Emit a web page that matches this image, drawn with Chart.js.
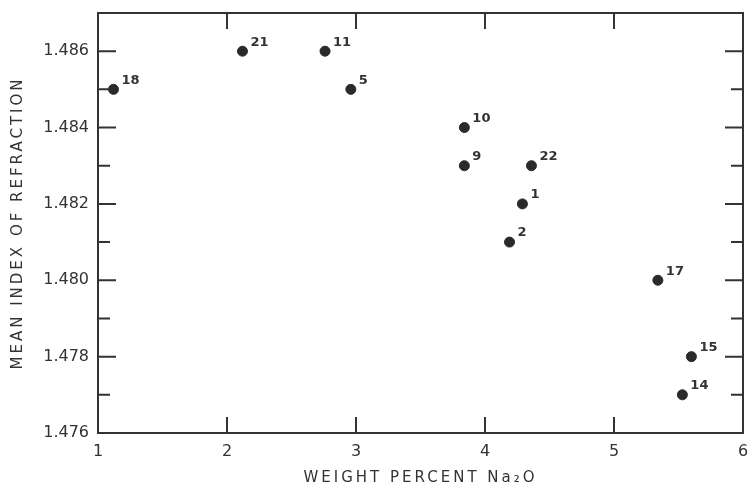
<!DOCTYPE html>
<html><head><meta charset="utf-8">
<script src="https://cdn.jsdelivr.net/npm/chart.js@4"></script>
<style>html,body{margin:0;padding:0;background:#fff}</style>
</head><body>
<canvas id="c" width="749" height="486" style="width:749px;height:486px;display:block"></canvas>
<script>
// ---- data ----
const sampleLabels = ['18','21','11','5','10','9','22','1','2','17','15','14'];
const weightNa2O   = [1.12, 2.12, 2.76, 2.96, 3.84, 3.84, 4.36, 4.29, 4.19, 5.34, 5.60, 5.53];
const meanIndex    = [1.485, 1.486, 1.486, 1.485, 1.484, 1.483, 1.483, 1.482, 1.481, 1.480, 1.478, 1.477];
const xTickLabels  = ['1','2','3','4','5','6'];
const yTickLabels  = ['1.476','1.478','1.480','1.482','1.484','1.486'];
const xTitle = 'WEIGHT PERCENT Na\u2082O';
const yTitle = 'MEAN INDEX OF REFRACTION';

const INK = '#333333';
const FONT = '"DejaVu Sans", sans-serif';

const framePlugin = {
  id: 'frame',
  afterDraw(chart) {
    const {ctx, chartArea: a, scales: {x, y}} = chart;
    ctx.save();
    ctx.strokeStyle = INK;
    ctx.lineWidth = 2;
    ctx.strokeRect(a.left, a.top, a.right - a.left, a.bottom - a.top);
    ctx.beginPath();
    x.ticks.forEach(t => {
      if (t.value <= x.min || t.value >= x.max) return;
      const px = x.getPixelForValue(t.value);
      ctx.moveTo(px, a.bottom); ctx.lineTo(px, a.bottom - 16);
      ctx.moveTo(px, a.top);    ctx.lineTo(px, a.top + 16);
    });
    y.ticks.forEach(t => {
      if (t.value <= y.min + 1e-9 || t.value >= y.max - 1e-9) return;
      const py = y.getPixelForValue(t.value);
      const major = yTickLabels.includes(t.value.toFixed(3));
      const len = major ? 18 : 12;
      ctx.moveTo(a.left, py);  ctx.lineTo(a.left + len, py);
      ctx.moveTo(a.right, py); ctx.lineTo(a.right - len, py);
    });
    ctx.stroke();

    // sample number labels
    const meta = chart.getDatasetMeta(0);
    ctx.fillStyle = INK;
    ctx.font = 'bold 13px ' + FONT;
    ctx.textAlign = 'left';
    ctx.textBaseline = 'middle';
    meta.data.forEach((pt, i) => ctx.fillText(sampleLabels[i], pt.x + 8, pt.y - 9));

    // axis titles
    ctx.font = '15px ' + FONT;
    ctx.letterSpacing = '3px';
    ctx.textAlign = 'center';
    ctx.fillText(xTitle, (a.left + a.right) / 2, 478);
    ctx.translate(18, (a.top + a.bottom) / 2);
    ctx.rotate(-Math.PI / 2);
    ctx.fillText(yTitle, 0, 0);
    ctx.restore();
  }
};

function noPad(s) { s.paddingLeft = 0; s.paddingRight = 0; s.paddingTop = 0; s.paddingBottom = 0; }

new Chart(document.getElementById('c'), {
  type: 'scatter',
  data: {
    datasets: [{
      data: weightNa2O.map((v, i) => ({x: v, y: meanIndex[i]})),
      backgroundColor: '#2a2a2a',
      borderColor: '#2a2a2a',
      pointRadius: 5,
      pointHoverRadius: 5
    }]
  },
  options: {
    responsive: false,
    animation: false,
    devicePixelRatio: 1,
    layout: {padding: {top: 13, right: 4, left: 0, bottom: 0}},
    plugins: {legend: {display: false}, tooltip: {enabled: false}},
    scales: {
      x: {
        type: 'linear', min: 1, max: 6,
        grid: {display: false, drawTicks: false},
        border: {display: false},
        ticks: {
          stepSize: 1, padding: 9, color: INK, font: {family: FONT, size: 16},
          maxRotation: 0,
          callback: v => { const s = String(Math.round(v)); return xTickLabels.includes(s) ? s : ''; }
        },
        afterFit: s => { s.height = 53; noPad(s); }
      },
      y: {
        type: 'linear', min: 1.476, max: 1.487,
        grid: {display: false, drawTicks: false},
        border: {display: false},
        ticks: {
          stepSize: 0.001, maxTicksLimit: 20, autoSkip: false, padding: 9,
          color: INK, font: {family: FONT, size: 16},
          callback: v => { const s = Number(v).toFixed(3); return yTickLabels.includes(s) ? s : ''; }
        },
        afterFit: s => { s.width = 98; noPad(s); }
      }
    }
  },
  plugins: [framePlugin]
});
</script>
</body></html>
